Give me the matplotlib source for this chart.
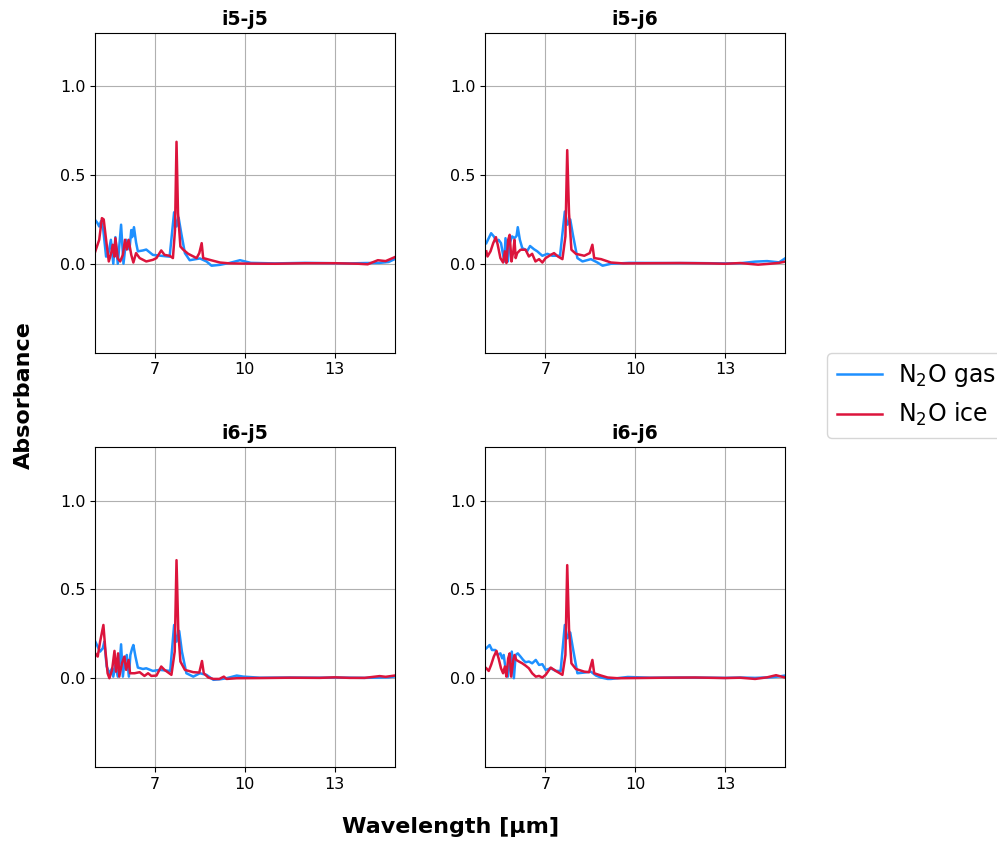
import matplotlib
matplotlib.use("Agg")
import matplotlib.pyplot as plt

titles = ["i5-j5", "i5-j6", "i6-j5", "i6-j6"]
series_labels = ["N$_2$O gas", "N$_2$O ice"]
x_ticks = [7, 10, 13]
y_ticks = [0.0, 0.5, 1.0]

# ---- i5-j5 ----
gas1_x = [5.0, 5.08, 5.14, 5.2, 5.27, 5.37, 5.45, 5.53, 5.61, 5.68, 5.76, 5.87, 5.95, 6.04, 6.15, 6.21,
          6.24, 6.30, 6.37, 6.43, 6.6, 6.71, 6.93, 7.2, 7.49, 7.64, 7.72, 7.79, 7.88, 8.0, 8.16, 8.5,
          8.72, 8.89, 9.17, 9.5, 9.84, 10.2, 11.0, 12.0, 13.0, 13.5, 14.0, 14.5, 14.8, 15.0]
gas1_y = [0.247, 0.23, 0.21, 0.24, 0.2, 0.04, 0.06, 0.135, 0.0, 0.15, 0.0, 0.22, 0.0, 0.135, 0.08, 0.19,
          0.15, 0.206, 0.12, 0.07, 0.075, 0.08, 0.05, 0.045, 0.04, 0.29, 0.21, 0.26, 0.17, 0.06, 0.02, 0.03,
          0.013, -0.011, -0.006, 0.005, 0.02, 0.005, 0.002, 0.005, 0.003, 0.002, 0.004, 0.005, 0.01, 0.026]
ice1_x = [5.01, 5.14, 5.23, 5.29, 5.37, 5.46, 5.54, 5.59, 5.65, 5.68, 5.76, 5.84, 5.93, 6.00, 6.06, 6.12,
          6.21, 6.28, 6.37, 6.49, 6.71, 6.93, 7.05, 7.21, 7.32, 7.49, 7.60, 7.67, 7.72, 7.77, 7.85, 7.94,
          8.11, 8.39, 8.48, 8.56, 8.61, 8.83, 9.17, 9.5, 10.0, 11.0, 12.0, 13.0, 13.8, 14.1, 14.44, 14.7, 15.0]
ice1_y = [0.07, 0.135, 0.257, 0.25, 0.135, 0.013, 0.06, 0.107, 0.04, 0.144, 0.03, 0.013, 0.05, 0.135, 0.08, 0.135,
          0.05, 0.007, 0.06, 0.032, 0.013, 0.022, 0.032, 0.075, 0.05, 0.045, 0.032, 0.19, 0.687, 0.285, 0.097, 0.08,
          0.056, 0.032, 0.06, 0.116, 0.032, 0.022, 0.007, 0.002, 0.001, 0.0, 0.003, 0.003, 0.0, -0.003, 0.02, 0.015, 0.037]

# ---- i5-j6 ----
gas2_x = [5.03, 5.11, 5.19, 5.28, 5.37, 5.44, 5.52, 5.59, 5.63, 5.67, 5.75, 5.81, 5.89, 5.97, 6.04, 6.08,
          6.15, 6.23, 6.34, 6.39, 6.49, 6.62, 6.73, 6.90, 7.07, 7.23, 7.49, 7.65, 7.74, 7.83, 7.92, 8.07,
          8.24, 8.52, 8.74, 8.91, 9.19, 9.8, 11.0, 12.0, 13.0, 13.5, 14.0, 14.4, 14.8, 15.0]
gas2_y = [0.116, 0.144, 0.172, 0.154, 0.125, 0.135, 0.116, 0.05, 0.013, 0.144, 0.013, 0.116, 0.154, 0.144, 0.157, 0.206,
          0.135, 0.088, 0.079, 0.07, 0.1, 0.082, 0.07, 0.045, 0.056, 0.045, 0.045, 0.294, 0.22, 0.25, 0.163, 0.032,
          0.013, 0.026, 0.007, -0.011, 0.0, 0.005, 0.004, 0.004, 0.002, 0.003, 0.012, 0.015, 0.008, 0.03]
ice2_x = [5.03, 5.07, 5.17, 5.26, 5.35, 5.41, 5.50, 5.59, 5.65, 5.70, 5.76, 5.81, 5.87, 5.93, 5.97, 6.01,
          6.06, 6.17, 6.34, 6.45, 6.56, 6.67, 6.79, 6.90, 7.01, 7.18, 7.29, 7.42, 7.57, 7.67, 7.73, 7.79,
          7.87, 8.02, 8.30, 8.48, 8.57, 8.63, 8.86, 9.19, 9.6, 10.5, 11.5, 12.5, 13.0, 13.5, 14.1, 14.5, 14.8, 15.0]
ice2_y = [0.07, 0.041, 0.07, 0.116, 0.15, 0.107, 0.032, 0.007, 0.07, 0.004, 0.135, 0.163, 0.013, 0.07, 0.135, 0.032,
          0.06, 0.079, 0.079, 0.041, 0.056, 0.013, 0.026, 0.007, 0.032, 0.05, 0.06, 0.041, 0.026, 0.154, 0.64, 0.285,
          0.079, 0.056, 0.045, 0.06, 0.107, 0.032, 0.026, 0.007, 0.002, 0.003, 0.004, 0.002, 0.0, 0.004, -0.005, 0.0, 0.005, 0.012]

# ---- i6-j5 ----
gas3_x = [5.01, 5.09, 5.17, 5.26, 5.31, 5.39, 5.48, 5.57, 5.61, 5.68, 5.76, 5.81, 5.87, 5.93, 5.99, 6.06,
          6.13, 6.18, 6.24, 6.28, 6.35, 6.43, 6.60, 6.71, 6.93, 7.16, 7.51, 7.64, 7.72, 7.81, 7.90, 8.05,
          8.28, 8.50, 8.72, 8.95, 9.17, 9.39, 9.73, 9.95, 10.5, 11.5, 12.5, 13.0, 13.5, 14.0, 14.5, 14.8, 15.0]
gas3_y = [0.206, 0.178, 0.15, 0.169, 0.206, 0.066, 0.028, 0.056, 0.009, 0.075, 0.009, 0.056, 0.191, 0.009, 0.103, 0.131,
          0.009, 0.131, 0.169, 0.187, 0.122, 0.06, 0.052, 0.056, 0.041, 0.047, 0.041, 0.3, 0.206, 0.266, 0.15, 0.028,
          0.009, 0.028, 0.019, -0.009, -0.006, 0.0, 0.015, 0.009, 0.003, 0.004, 0.003, 0.004, 0.003, 0.002, 0.004, 0.005, 0.01]
ice3_x = [5.01, 5.09, 5.17, 5.28, 5.35, 5.42, 5.48, 5.57, 5.65, 5.70, 5.77, 5.81, 5.90, 5.98, 6.04, 6.12,
          6.17, 6.32, 6.49, 6.65, 6.77, 6.88, 7.05, 7.21, 7.32, 7.55, 7.66, 7.72, 7.78, 7.85, 8.00, 8.28,
          8.48, 8.57, 8.63, 8.78, 8.95, 9.15, 9.30, 9.39, 9.73, 10.5, 11.5, 12.5, 13.0, 13.5, 14.0, 14.5, 14.7, 15.0]
ice3_y = [0.14, 0.122, 0.206, 0.3, 0.15, 0.028, 0.0, 0.047, 0.154, 0.037, 0.14, 0.009, 0.084, 0.122, 0.047, 0.103,
          0.028, 0.028, 0.034, 0.013, 0.028, 0.013, 0.015, 0.066, 0.047, 0.019, 0.15, 0.665, 0.262, 0.094, 0.047, 0.034,
          0.032, 0.097, 0.028, 0.004, -0.004, -0.004, 0.009, -0.004, 0.0, 0.001, 0.003, 0.002, 0.005, 0.002, 0.002, 0.012, 0.008, 0.015]

# ---- i6-j6 ----
gas4_x = [5.03, 5.14, 5.22, 5.33, 5.41, 5.50, 5.56, 5.61, 5.67, 5.75, 5.81, 5.88, 5.95, 6.01, 6.08, 6.17,
          6.26, 6.34, 6.45, 6.56, 6.68, 6.79, 6.90, 7.01, 7.18, 7.35, 7.51, 7.65, 7.74, 7.83, 7.92, 8.07,
          8.30, 8.52, 8.69, 8.86, 9.08, 9.19, 9.75, 10.5, 11.5, 12.5, 13.0, 13.5, 14.0, 14.5, 14.8, 15.0]
gas4_y = [0.169, 0.187, 0.159, 0.159, 0.131, 0.14, 0.112, 0.131, 0.056, 0.009, 0.084, 0.15, 0.0, 0.131, 0.14, 0.122,
          0.103, 0.09, 0.094, 0.084, 0.103, 0.075, 0.079, 0.047, 0.056, 0.041, 0.041, 0.3, 0.225, 0.258, 0.169, 0.028,
          0.032, 0.037, 0.015, 0.004, -0.004, -0.004, 0.007, 0.003, 0.004, 0.003, 0.002, 0.004, 0.002, 0.005, 0.01, 0.015]
ice4_x = [5.03, 5.11, 5.19, 5.28, 5.37, 5.44, 5.52, 5.59, 5.65, 5.70, 5.76, 5.81, 5.86, 5.93, 5.97, 6.03,
          6.12, 6.23, 6.34, 6.45, 6.56, 6.68, 6.79, 6.90, 7.01, 7.18, 7.35, 7.57, 7.67, 7.73, 7.79, 7.87,
          8.02, 8.30, 8.46, 8.57, 8.63, 8.86, 9.08, 9.41, 10.0, 11.0, 12.0, 13.0, 13.5, 14.0, 14.4, 14.7, 15.0]
ice4_y = [0.056, 0.041, 0.075, 0.122, 0.154, 0.112, 0.056, 0.028, 0.066, 0.009, 0.112, 0.14, 0.009, 0.103, 0.131, 0.103,
          0.094, 0.084, 0.071, 0.056, 0.028, 0.009, 0.013, 0.004, 0.019, 0.06, 0.041, 0.019, 0.131, 0.637, 0.281, 0.084,
          0.052, 0.037, 0.034, 0.103, 0.028, 0.015, 0.004, 0.0, 0.001, 0.003, 0.004, 0.001, 0.003, -0.004, 0.005, 0.017, 0.004]

gas_x = [gas1_x, gas2_x, gas3_x, gas4_x]
gas_y = [gas1_y, gas2_y, gas3_y, gas4_y]
ice_x = [ice1_x, ice2_x, ice3_x, ice4_x]
ice_y = [ice1_y, ice2_y, ice3_y, ice4_y]

fig, axes = plt.subplots(2, 2, figsize=(9.97, 8.41), dpi=100)
fig.subplots_adjust(left=0.0953, right=0.7874, top=0.9608, bottom=0.088, wspace=0.303, hspace=0.297)

handles = None
for i, ax in enumerate(axes.flat):
    h1, = ax.plot(gas_x[i], gas_y[i], color="#1E90FF", lw=1.8, label=series_labels[0])
    h2, = ax.plot(ice_x[i], ice_y[i], color="#DC143C", lw=1.8, label=series_labels[1])
    handles = [h1, h2]
    ax.set_xlim(5, 15)
    ax.set_ylim(-0.5, 1.3)
    ax.set_xticks(x_ticks)
    ax.set_yticks(y_ticks)
    ax.tick_params(labelsize=11.5)
    ax.grid(True, color="#b0b0b0", lw=0.8)
    ax.set_title(titles[i], fontsize=13.5, fontweight="bold")

fig.legend(handles, series_labels, loc="center left", bbox_to_anchor=(0.818, 0.53),
           fontsize=17, handlelength=1.9, handletextpad=0.7)
fig.supxlabel("Wavelength [μm]", fontsize=16, fontweight="bold", x=0.452, y=0.005)
fig.supylabel("Absorbance", fontsize=16, fontweight="bold", x=0.014, y=0.53)

fig.savefig("out.png", dpi=100)
